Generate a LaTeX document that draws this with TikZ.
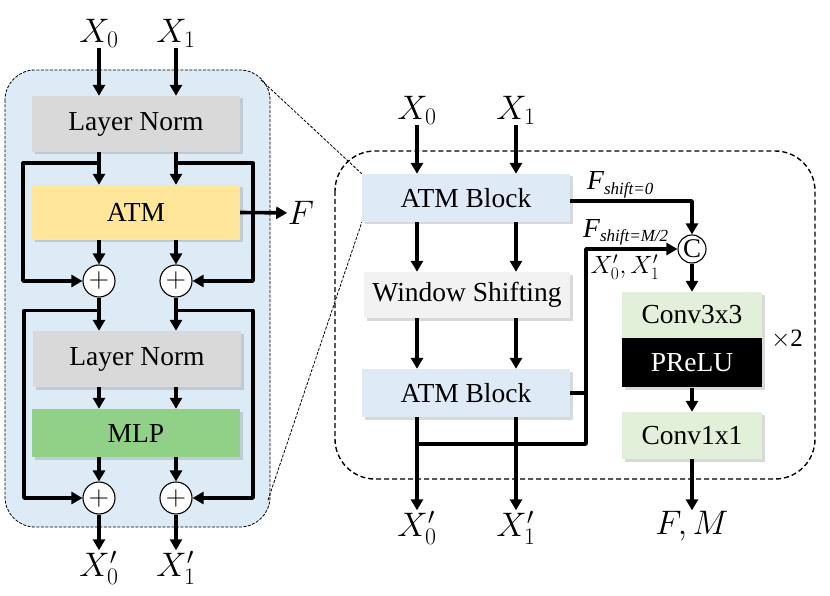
\RequirePackage{fix-cm}
\documentclass[tikz,border=0pt]{standalone}
\usepackage{fontspec}
\setmainfont{Liberation Serif}
\usetikzlibrary{arrows.meta,shadows,calc,positioning}
\definecolor{panelblu}{RGB}{221,235,247}
\definecolor{lngray}{RGB}{217,217,217}
\definecolor{atmyel}{RGB}{255,230,153}
\definecolor{mlpgrn}{RGB}{145,209,135}
\definecolor{atmblu}{RGB}{222,235,247}
\definecolor{wsgray}{RGB}{242,242,242}
\definecolor{convgrn}{RGB}{226,240,217}
\newcommand{\boxfont}{\fontsize{27.5}{32}\selectfont}
\newcommand{\lblfont}{\fontsize{34}{40}\selectfont}
\begin{document}
\begin{tikzpicture}[x=1pt,y=-1pt,line join=round,
	blk/.style={minimum width=208pt,minimum height=56pt,inner sep=0pt,font=\boxfont,drop shadow={shadow xshift=2.5pt,shadow yshift=-2.5pt,opacity=.3}},
	addop/.style={circle,draw,line width=1.1pt,fill=white,minimum size=32pt,inner sep=0pt,font=\fontsize{28}{28}\selectfont},
	lbl/.style={inner sep=0.5pt,font=\lblfont},
	arr/.style={line width=3.6pt,-{Triangle[length=11pt,width=12pt]}},
	ln/.style={line width=3.6pt},
	panel/.style={draw,line width=0.8pt,dash pattern=on 3pt off 1.5pt,rounded corners=30pt},
	zoomln/.style={line width=0.8pt,dash pattern=on 3pt off 1.5pt}]
	\useasboundingbox (0,0) rectangle (830,596);
	% left: transformer layer
	\draw[panel,fill=panelblu] (5,70) rectangle (270,527);
	\node[blk,fill=lngray] (ln1) at (136,124) {Layer Norm};
	\node[blk,fill=atmyel,minimum height=55pt] (atm) at (136,212.5) {ATM};
	\node[addop] (p1) at (99,281) {$+$};
	\node[addop] (p2) at (176,281) {$+$};
	\node[blk,fill=lngray] (ln2) at (137,359) {Layer Norm};
	\node[blk,fill=mlpgrn,minimum height=48pt] (mlp) at (136,433) {MLP};
	\node[addop] (p3) at (99,498) {$+$};
	\node[addop] (p4) at (176,498) {$+$};
	\node[lbl] (x0) at (99,33) {$X_0$};
	\node[lbl] (x1) at (176,33) {$X_1$};
	\node[lbl] (y0) at (99,568) {$X'_0$};
	\node[lbl] (y1) at (176,568) {$X'_1$};
	\node[lbl] (fo) at (301,213) {$F$};
	\draw[arr] (x0) -- (ln1.north -| x0);
	\draw[arr] (x1) -- (ln1.north -| x1);
	\draw[arr] (ln1.south -| x0) -- (atm.north -| x0);
	\draw[arr] (ln1.south -| x1) -- (atm.north -| x1);
	\draw[arr] ($(ln1.south -| x0)+(0,11)$) -- ++(-76,0) |- (p1);
	\draw[arr] ($(ln1.south -| x1)+(0,11)$) -- ++(77,0) |- (p2);
	\draw[arr] (atm.south -| p1) -- (p1);
	\draw[arr] (atm.south -| p2) -- (p2);
	\draw[arr] (atm.east) -- (fo);
	\draw[arr] (p1) -- (ln2.north -| p1);
	\draw[arr] (p2) -- (ln2.north -| p2);
	\draw[arr] ($(p1.south)+(0,13)$) -- ++(-75,0) |- (p3);
	\draw[arr] ($(p2.south)+(0,13)$) -- ++(77,0) |- (p4);
	\draw[arr] (ln2.south -| p1) -- (mlp.north -| p1);
	\draw[arr] (ln2.south -| p2) -- (mlp.north -| p2);
	\draw[arr] (mlp.south -| p3) -- (p3);
	\draw[arr] (mlp.south -| p4) -- (p4);
	\draw[arr] (p3) -- (y0);
	\draw[arr] (p4) -- (y1);
	% right: ATM block pair
	\draw[panel,line width=1.4pt,dash pattern=on 5pt off 3pt,rounded corners=40pt] (335,151) rectangle (815,479);
	\coordinate (zt) at (261,80);
	\coordinate (zb) at (268,500);
	\node[blk,fill=atmblu,minimum height=48pt] (ab1) at (466,198) {ATM Block};
	\node[blk,fill=wsgray,minimum height=46pt,minimum width=206pt] (ws) at (467,295) {Window Shifting};
	\node[blk,fill=atmblu,minimum height=48pt] (ab2) at (466,393) {ATM Block};
	\draw[zoomln] (zt) -- (ab1.north west);
	\draw[zoomln] (zb) -- (ab1.south west);
	\node[addop,minimum size=28pt,font=\fontsize{27}{27}\selectfont] (cat) at (692,249) {C};
	\node[blk,fill=convgrn,minimum width=140pt,minimum height=46pt] (c3) at (692,315) {Conv3x3};
	\node[blk,fill=black,text=white,minimum width=140pt,minimum height=49pt,below=0pt of c3] (pr) {PReLU};
	\node[blk,fill=convgrn,minimum width=140pt,minimum height=47pt] (c1) at (692,435.5) {Conv1x1};
	\node[inner sep=0pt,font=\fontsize{25}{28}\selectfont] (rep) at (787,339) {$\times$2};
	\node[lbl] (rx0) at (417,110) {$X_0$};
	\node[lbl] (rx1) at (516,110) {$X_1$};
	\node[lbl] (ry0) at (417,528) {$X'_0$};
	\node[lbl] (ry1) at (516,528) {$X'_1$};
	\node[lbl] (fm) at (692,526) {$F,M$};
	\node[anchor=base west,inner sep=0pt,font=\boxfont\itshape] (fs0) at (587,190) {F\raisebox{-5pt}{\fontsize{17}{18}\selectfont shift=0}};
	\node[anchor=base west,inner sep=0pt,font=\boxfont\itshape] (fs1) at (583,237) {F\raisebox{-5pt}{\fontsize{17}{18}\selectfont shift=M/2}};
	\node[inner sep=0pt,font=\fontsize{25}{28}\selectfont] (xs) at (625,267) {$X'_0,X'_1$};
	\draw[arr] (rx0) -- (ab1.north -| rx0);
	\draw[arr] (rx1) -- (ab1.north -| rx1);
	\draw[arr] (ab1.south -| rx0) -- (ws.north -| rx0);
	\draw[arr] (ab1.south -| rx1) -- (ws.north -| rx1);
	\draw[arr] (ws.south -| rx0) -- (ab2.north -| rx0);
	\draw[arr] (ws.south -| rx1) -- (ab2.north -| rx1);
	\draw[arr] (ab2.south -| rx0) -- (ry0);
	\draw[arr] (ab2.south -| rx1) -- (ry1);
	\coordinate (mj) at (586,444);
	\draw[ln] (ab2.east) -- (ab2.east -| mj);
	\draw[arr] (mj -| rx0) -- (mj) |- (cat);
	\draw[arr] ($(ab1.east)+(0,3)$) -| (cat);
	\draw[arr] (cat) -- (c3);
	\draw[arr] (pr) -- (c1);
	\draw[arr] (c1) -- (fm);
\end{tikzpicture}
\end{document}
